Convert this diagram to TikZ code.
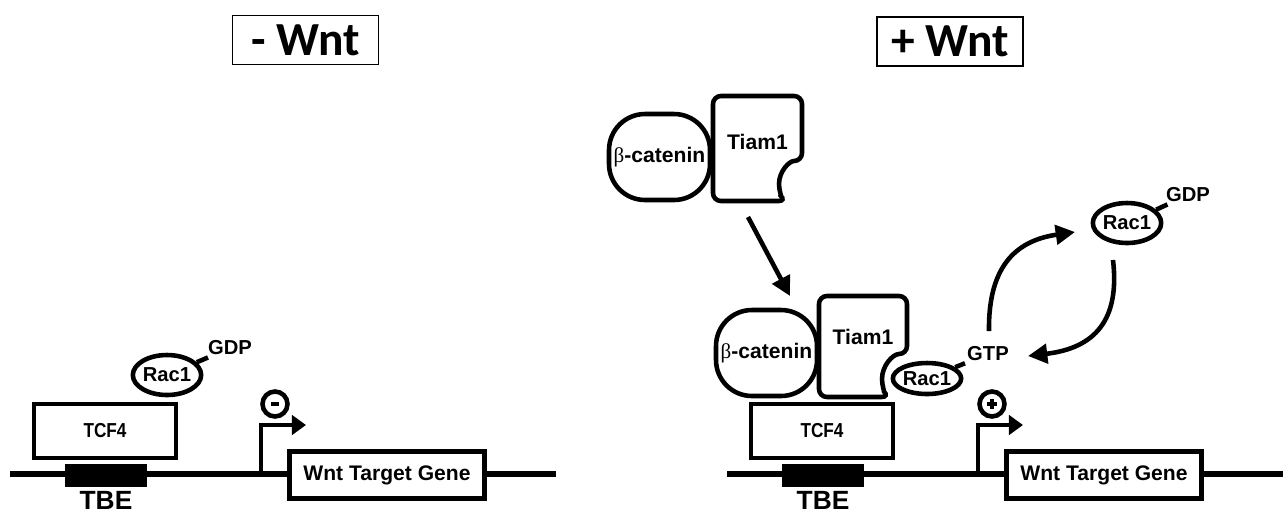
\documentclass[tikz,border=0pt]{standalone}
\usepackage{fontspec}
\setmainfont{Liberation Sans}
\newfontfamily\headfont{Carlito}
\newfontfamily\narrowfont{Liberation Sans}[FakeStretch=0.85]
\newfontfamily\greekfont{Liberation Serif}
\usetikzlibrary{arrows.meta,shapes.geometric}

\begin{document}
\begin{tikzpicture}[x=0.02cm, y=-0.02cm, line width=2.6pt,
  every node/.style={font=\bfseries\fontsize{11.5}{13}\selectfont, inner sep=0pt},
  wntbox/.style={draw, line width=0.8pt, minimum width=2.92cm, minimum height=0.98cm, font=\headfont\bfseries\fontsize{27}{30}\selectfont},
  box/.style={draw, fill=white, minimum width=2.84cm, minimum height=1.08cm},
  tcf/.style={box, font=\narrowfont\bfseries\fontsize{11.5}{13}\selectfont},
  gene/.style={box, minimum width=3.9cm, minimum height=0.94cm, font=\bfseries\fontsize{12}{14}\selectfont},
  tbe/.style={fill=black, minimum width=1.64cm, minimum height=0.46cm},
  rac/.style={ellipse, draw, fill=white, minimum width=1.32cm, minimum height=0.8cm},
  cat/.style={draw, fill=white, rounded corners=0.72cm, minimum width=2.02cm, minimum height=1.72cm, font=\bfseries\fontsize{12}{14}\selectfont},
  tiam/.style={draw, fill=white, rounded corners=0.16cm},
  sign/.style={circle, draw, minimum size=0.5cm},
  promarrow/.style={-{Triangle[length=8pt,width=11pt]}},
  cycarrow/.style={-{Triangle[length=11pt,width=11pt]}}]
\useasboundingbox (0,0) rectangle (1287,512);
\node[wntbox] (wntL) at (305.5,40) {- Wnt};
\node[wntbox] (wntR) at (950,41.5) {+ Wnt};
\foreach \dx/\k/\e in {0/L/556,717/R/1283}{
  \coordinate (dnaA\k) at (\dx+10,474);
  \coordinate (dnaB\k) at (\e,474);
  \draw[line width=2.9pt] (dnaA\k) -- (dnaB\k);
  \node[tbe] (tbe\k) at (\dx+106,475.5) {};
  \node[anchor=base, font=\bfseries\fontsize{15}{17}\selectfont] (tbel\k) at (\dx+106,509) {TBE};
  \node[tcf] (tcf\k) at (\dx+105,431) {TCF4};
  \node[gene] (gene\k) at (\dx+387,475) {Wnt Target Gene};
  \coordinate (prom\k) at (\dx+261,474);
  \coordinate (tip\k) at (\dx+306,425);
  \draw[promarrow] (prom\k) |- (tip\k);
  \node[sign] (sign\k) at (\dx+275,404) {};
}
\draw[line width=2.8pt] ([xshift=-2pt]signL.center) -- ([xshift=2pt]signL.center);
\draw[line width=2pt] ([xshift=-3pt]signR.center) -- ([xshift=3pt]signR.center);
\draw[line width=2pt] ([yshift=-3pt]signR.center) -- ([yshift=3pt]signR.center);
\node[rac] (racL) at (167,375) {Rac1};
\node (gdpL) at (230,348) {GDP};
\draw (racL) -- (gdpL);
\node[cat] (catT) at (659.5,157) {{\greekfont\mdseries β}-catenin};
\draw[tiam] (757,96) -- (802,96) -- (802,161) arc[start angle=270,end angle=132.3,radius=23] -- (713,201) -- (713,96) -- cycle;
\node[font=\bfseries\fontsize{12}{14}\selectfont] (tiamT) at (757.5,142) {Tiam1};
\coordinate (arrA) at (748,217);
\coordinate (arrB) at (790,296);
\draw[cycarrow] (arrA) -- (arrB);
\node[cat] (catB) at (766.5,353) {{\greekfont\mdseries β}-catenin};
\draw[tiam] (863,296) -- (907,296) -- (907,354) arc[start angle=270,end angle=134,radius=25] -- (819,397) -- (819,296) -- cycle;
\node[font=\bfseries\fontsize{12}{14}\selectfont] (tiamB) at (863,337) {Tiam1};
\node[rac, minimum height=0.62cm] (racB) at (927,378.5) {Rac1};
\node (gtp) at (988,354) {GTP};
\draw (racB) -- (gtp);
\node[rac] (racT) at (1127,223) {Rac1};
\node (gdpT) at (1188,195) {GDP};
\draw (racT) -- (gdpT);
\coordinate (cycA) at (989,331);
\coordinate (cycB) at (1075,232);
\coordinate (cycC) at (1113,260);
\coordinate (cycD) at (1028,356);
\draw[cycarrow] (cycA) .. controls (988,262) and (1020,240) .. (cycB);
\draw[cycarrow] (cycC) .. controls (1120,320) and (1095,348) .. (cycD);
\end{tikzpicture}
\end{document}
